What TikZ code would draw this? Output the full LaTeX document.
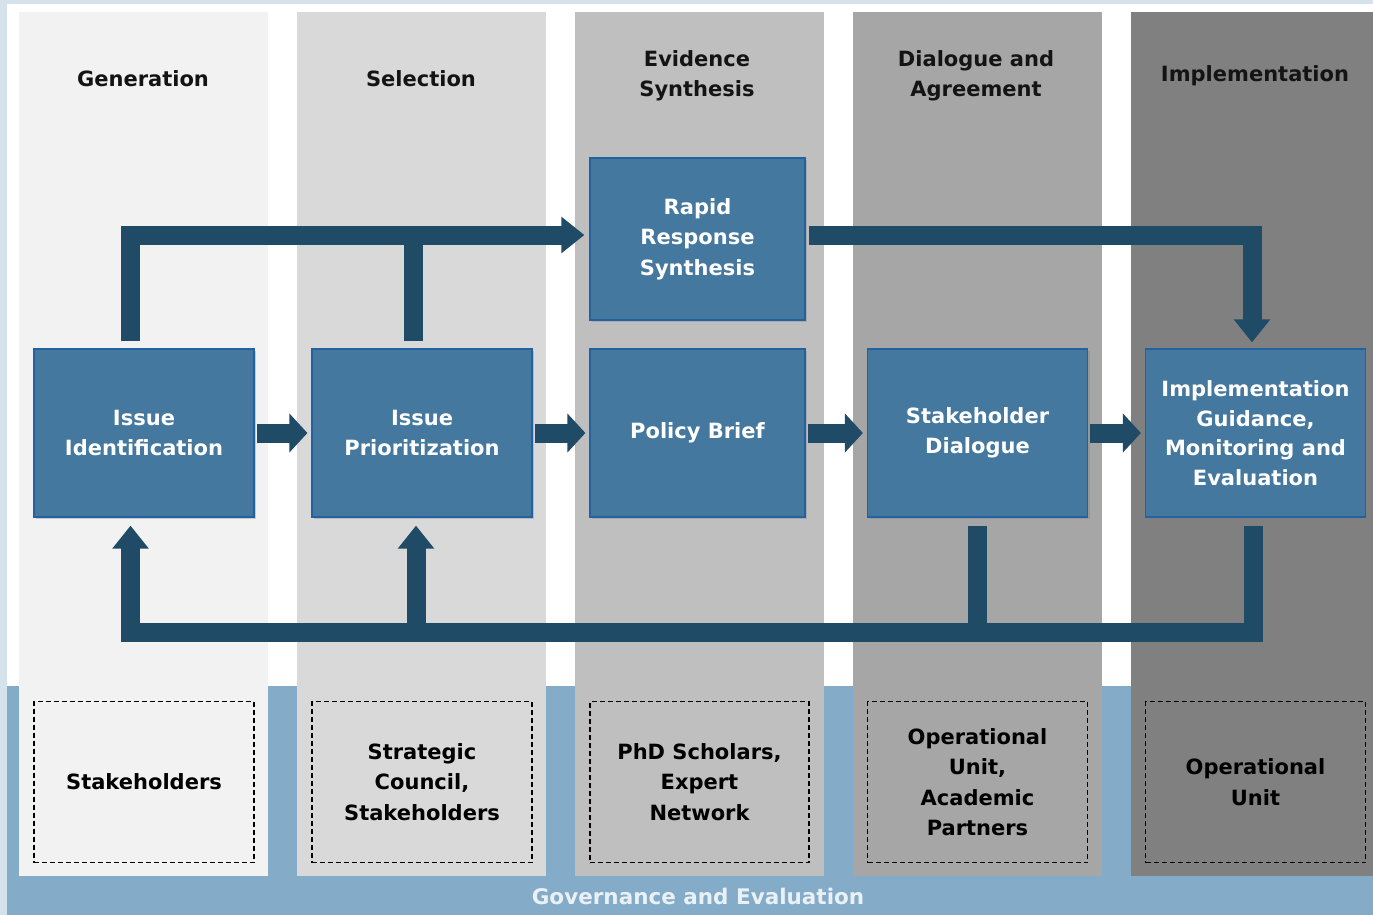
\documentclass[tikz,border=0pt]{standalone}
\usepackage{fontspec}
\setmainfont{DejaVu Sans}
\usetikzlibrary{arrows.meta,shadows}
\definecolor{framec}{HTML}{D5E1EB}
\definecolor{bandc}{HTML}{84ACC8}
\definecolor{boxfill}{HTML}{44789E}
\definecolor{boxline}{HTML}{2262A2}
\definecolor{arrowc}{HTML}{1F4B66}
\definecolor{govtext}{HTML}{EAF1F6}
\begin{document}
\begin{tikzpicture}[x=1pt,y=-1pt,
	every node/.style={font=\fontsize{21}{30.5}\selectfont\bfseries},
	stage/.style={draw=boxline,line width=1.2pt,fill=boxfill,text=white,
		minimum width=220pt,minimum height=168pt,inner sep=0pt,align=center,
		drop shadow={shadow xshift=2pt,shadow yshift=-2pt,opacity=0.35}},
	actor/.style={draw=black,line width=1.6pt,dash pattern=on 5pt off 3pt,
		minimum width=220pt,minimum height=161pt,inner sep=0pt,align=center},
	flow/.style={draw=arrowc,line width=19pt,-{Triangle[width=35pt,length=23pt]}},
	link/.style={draw=arrowc,line width=19pt,-{Triangle[width=38pt,length=18pt]},
		shorten <=2pt,shorten >=4pt},
	bar/.style={draw=arrowc,line width=19pt}]
	\useasboundingbox (0,0) rectangle (1373,915);
	% frame and governance band
	\fill[framec] (0,0) rectangle (1373,915);
	\fill[white] (7,4) rectangle (1373,915);
	\fill[bandc] (7,686) rectangle (1373,915);
	\node[text=govtext,font=\fontsize{21.5}{26}\selectfont\bfseries] (gov) at (698,896) {Governance and Evaluation};
	% phase columns
	\foreach \x/\shade in {19/F2F2F2,297/D9D9D9,575/BFBFBF,853/A6A6A6,1131/808080} {
		\definecolor{colc}{HTML}{\shade}
		\fill[colc] (\x,12) rectangle (\x+249,876);
	}
	\foreach \nm/\cx/\cy/\txt in {gen/143/79/{Generation}, sel/421/79/{Selection},
		evi/697/76/{Evidence\\Synthesis}, agr/976/76/{Dialogue and\\Agreement},
		imp/1255/76/{Implementation}} {
		\node[align=center,text=black!92] (\nm) at (\cx,\cy) {\txt};
	}
	% stages
	\node[stage] (id) at (144,433) {Issue\\Identification};
	\node[stage] (prio) at (422,433) {Issue\\Prioritization};
	\node[stage,minimum width=215pt] (policy) at (697.5,433) {Policy Brief};
	\node[stage] (dial) at (977.5,433) {Stakeholder\\Dialogue};
	\node[stage,font=\fontsize{21}{29.5}\selectfont\bfseries] (impl) at (1255.5,433) {Implementation\\Guidance,\\Monitoring and\\Evaluation};
	\node[stage,minimum width=215pt,minimum height=162pt] (rapid) at (697.5,239) {Rapid\\Response\\Synthesis};
	% actors
	\node[actor] (who1) at (144,782) {Stakeholders};
	\node[actor] (who2) at (422,782) {Strategic\\Council,\\Stakeholders};
	\node[actor,minimum width=219pt] (who3) at (699.5,782) {PhD Scholars,\\Expert\\Network};
	\node[actor] (who4) at (977.5,782) {Operational\\Unit,\\Academic\\Partners};
	\node[actor] (who5) at (1255.5,782) {Operational\\Unit};
	% main chain
	\foreach \a/\b in {id/prio,prio/policy,policy/dial,dial/impl}
		\draw[link] (\a) -- (\b);
	% rapid route
	\draw[bar,shorten <=7pt] ([xshift=-8.5pt]prio.north) |- ([xshift=-30pt,yshift=4pt]rapid.west);
	\draw[flow,shorten <=7pt,shorten >=5pt] ([xshift=-13.5pt]id.north) |- ([yshift=4pt]rapid.west);
	\draw[flow,shorten <=3pt,shorten >=6pt] ([yshift=4pt]rapid.east) -| ([xshift=-3.5pt]impl.north);
	% feedback loop
	\coordinate (back) at (700,632);
	\draw[bar,shorten <=8pt] (dial.south) -- (dial.south |- back);
	\draw[flow,shorten >=8pt] (back) -| ([xshift=-6pt]prio.south);
	\draw[flow,shorten <=8pt,shorten >=8pt] ([xshift=-2pt]impl.south) |- (back) -| ([xshift=-13.5pt]id.south);
\end{tikzpicture}
\end{document}
